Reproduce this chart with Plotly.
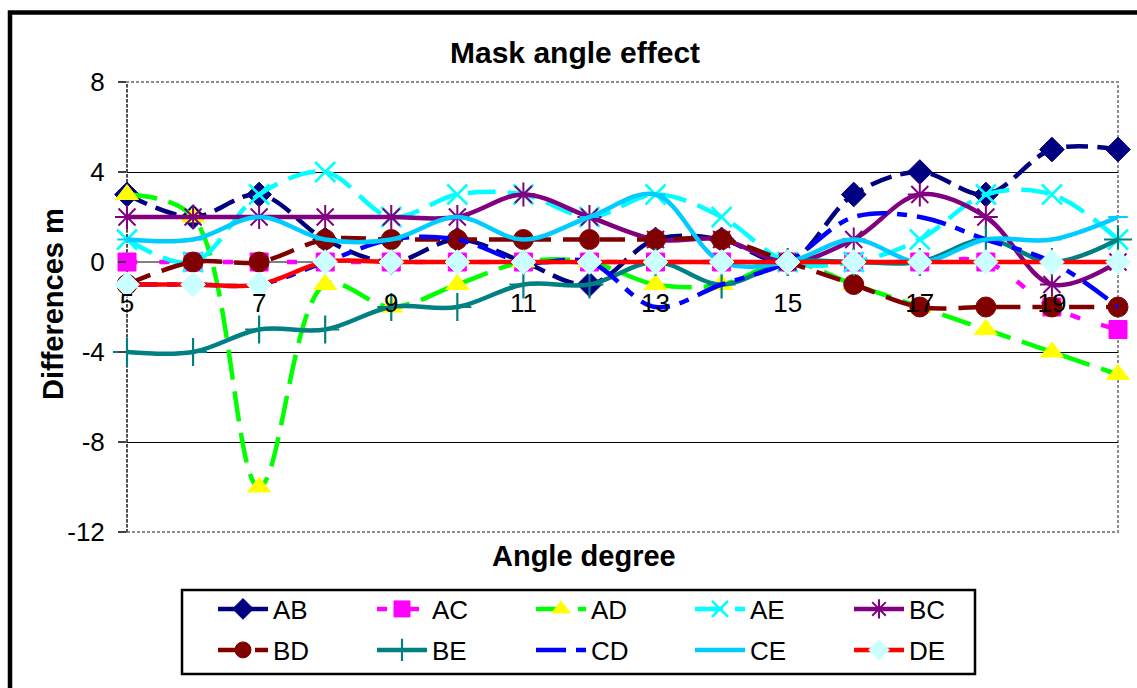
import plotly.graph_objects as go

# ---------------- data ----------------
angles = [5, 6, 7, 8, 9, 10, 11, 12, 13, 14, 15, 16, 17, 18, 19, 20]
x_tick_values = [5, 7, 9, 11, 13, 15, 17, 19]
y_tick_values = [-12, -8, -4, 0, 4, 8]
y_range = [-12, 8]
x_range = [5, 20]

AB = [3, 2, 3, 1, 0, 1, 0, -1, 1, 1, 0, 3, 4, 3, 5, 5]
AC = [0, 0, 0, 0, 0, 0, 0, 0, 0, 0, 0, 0, 0, 0, -2, -3]
AD = [3, 2, -10, -1, -2, -1, 0, 0, -1, -1, 0, -1, -2, -3, -4, -5]
AE = [1, 0, 3, 4, 2, 3, 3, 2, 3, 2, 0, 0, 1, 3, 3, 1]
BC = [2, 2, 2, 2, 2, 2, 3, 2, 1, 1, 0, 1, 3, 2, -1, 0]
BD = [-1, 0, 0, 1, 1, 1, 1, 1, 1, 1, 0, -1, -2, -2, -2, -2]
BE = [-4, -4, -3, -3, -2, -2, -1, -1, 0, -1, 0, 0, 0, 1, 0, 1]
CD = [-1, -1, -1, 0, 1, 1, 0, 0, -2, -1, 0, 2, 2, 1, 0, -2]
CE = [1, 1, 2, 1, 1, 2, 1, 2, 3, 0, 0, 1, 0, 1, 1, 2]
DE = [-1, -1, -1, 0, 0, 0, 0, 0, 0, 0, 0, 0, 0, 0, 0, 0]

series_names = ["AB", "AC", "AD", "AE", "BC", "BD", "BE", "CD", "CE", "DE"]
series_values = [AB, AC, AD, AE, BC, BD, BE, CD, CE, DE]

# ---------------- styles ----------------
styles = {
    "AB": dict(color="#000080", dash="22px,9px", symbol="diamond", size=19, mcolor="#000080", mline=1),
    "AC": dict(color="#FF00FF", dash="10px,22px", symbol="square", size=18, mcolor="#FF00FF", mline=1),
    "AD": dict(color="#00FF00", dash="30px,12px", symbol="triangle-up", size=20, mcolor="#FFFF00", mline=1),
    "AE": dict(color="#00FFFF", dash="28px,12px", symbol="x-thin", size=20, mcolor="#00FFFF", mline=2.5),
    "BC": dict(color="#800080", dash="solid", symbol="asterisk", size=20, mcolor="#800080", mline=2),
    "BD": dict(color="#800000", dash="25px,12px", symbol="circle", size=20, mcolor="#800000", mline=1),
    "BE": dict(color="#008080", dash="solid", symbol="cross-thin", size=20, mcolor="#008080", mline=2.2),
    "CD": dict(color="#0000FF", dash="30px,10px,10px,10px", symbol=None, size=0, mcolor="#0000FF", mline=0),
    "CE": dict(color="#00CCFF", dash="solid", symbol="line-ew", size=14, mcolor="#00CCFF", mline=2),
    "DE": dict(color="#FF0000", dash="solid", symbol="diamond", size=19, mcolor="#CCFFFF", mline=1),
}

# plot area in pixels
L, R, T, B = 127, 1118, 82, 532
W, H = 1137, 688


def px2x(px):
    return (px - L) / (R - L)


def py2y(py):
    return (B - py) / (B - T)


FONT = "Liberation Sans, Arial, sans-serif"

fig = go.Figure()
for i, (name, vals) in enumerate(zip(series_names, series_values)):
    st = styles[name]
    if st["symbol"] is None:
        mode = "lines"
        marker = None
    else:
        mode = "lines+markers"
        marker = dict(symbol=st["symbol"], size=st["size"], color=st["mcolor"],
                      line=dict(color=st["mcolor"], width=st["mline"]))
    fig.add_trace(go.Scatter(
        x=angles, y=vals, name=name, mode=mode,
        line=dict(color=st["color"], width=4.5, dash=st["dash"], shape="spline", smoothing=1.0),
        marker=marker,
        legend="legend" if i < 5 else "legend2",
        cliponaxis=False,
    ))

zero_pos = (0 - y_range[0]) / (y_range[1] - y_range[0])

legend_common = dict(
    orientation="h", xanchor="left", yanchor="middle",
    font=dict(family=FONT, size=26, color="black"),
    bgcolor="rgba(0,0,0,0)", borderwidth=0,
    entrywidth=94, entrywidthmode="pixels", itemwidth=50,
    traceorder="normal",
)

fig.update_layout(
    width=W, height=H, autosize=False,
    margin=dict(l=L, r=W - R, t=T, b=H - B, pad=0),
    paper_bgcolor="white", plot_bgcolor="white",
    font=dict(family=FONT, color="black"),
    showlegend=True,
    xaxis=dict(
        range=x_range, tickmode="array", tickvals=x_tick_values,
        ticktext=[str(v) for v in x_tick_values],
        anchor="free", position=zero_pos,
        showgrid=False, zeroline=False, showline=False,
        ticks="outside", ticklen=18, tickcolor="rgba(0,0,0,0)",
        tickfont=dict(family=FONT, size=26, color="black"),
    ),
    yaxis=dict(
        range=y_range, tickmode="array", tickvals=y_tick_values,
        ticktext=[str(v) for v in y_tick_values],
        showgrid=True, gridcolor="black", gridwidth=1.3,
        zeroline=True, zerolinecolor="#808080", zerolinewidth=1.5,
        showline=False,
        ticks="outside", ticklen=8, tickwidth=1.5, tickcolor="#404040",
        ticklabelstandoff=8,
        tickfont=dict(family=FONT, size=26, color="black"),
    ),
    legend=dict(legend_common, x=px2x(213), y=py2y(609)),
    legend2=dict(legend_common, x=px2x(213), y=py2y(650)),
    shapes=[
        # mask edge grid lines under plot-area border
        dict(type="rect", xref="paper", yref="paper", x0=0, x1=1, y0=0, y1=1,
             line=dict(color="white", width=3), layer="between"),
        dict(type="rect", xref="paper", yref="paper", x0=0, x1=1, y0=0, y1=1,
             line=dict(color="#8c8c8c", width=2, dash="3px,2px"), layer="between"),
        dict(type="line", xref="paper", yref="paper", x0=0, x1=0, y0=0, y1=1,
             line=dict(color="#505050", width=2, dash="3px,2px"), layer="between"),
        # legend box
        dict(type="rect", xref="paper", yref="paper",
             x0=px2x(182), x1=px2x(975), y0=py2y(590), y1=py2y(674),
             line=dict(color="black", width=2.5), layer="above"),
        # outer chart border
        dict(type="rect", xref="paper", yref="paper",
             x0=px2x(10), x1=px2x(1150), y0=py2y(12.5), y1=py2y(700),
             line=dict(color="black", width=4.5), layer="above"),
    ],
    annotations=[
        dict(text="<b>Mask angle effect</b>", xref="paper", yref="paper",
             x=px2x(575), y=py2y(53), xanchor="center", yanchor="middle",
             showarrow=False, font=dict(family=FONT, size=30, color="black")),
        dict(text="<b>Angle degree</b>", xref="paper", yref="paper",
             x=px2x(584), y=py2y(556), xanchor="center", yanchor="middle",
             showarrow=False, font=dict(family=FONT, size=29, color="black")),
        dict(text="<b>Differences m</b>", xref="paper", yref="paper",
             x=px2x(53), y=py2y(304), xanchor="center", yanchor="middle",
             textangle=-90,
             showarrow=False, font=dict(family=FONT, size=29, color="black")),
    ],
)

fig.write_html("out.html")
